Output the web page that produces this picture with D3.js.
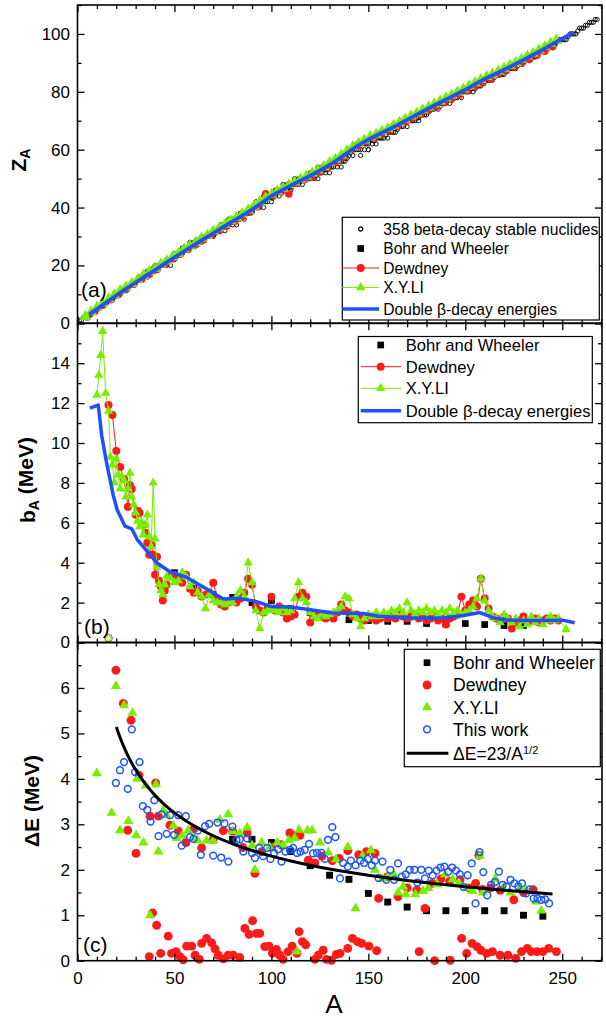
<!DOCTYPE html>
<html><head><meta charset="utf-8">
<script src="https://cdn.jsdelivr.net/npm/d3@7"></script>
<style>body{margin:0;background:#fff}svg{display:block}text{font-family:Arial,"Liberation Sans",sans-serif}</style>
</head><body><svg id="c" width="606" height="1019"></svg>
<script>
// ---------- Panel (a): Z_A versus A ----------
// most beta-stable charge for A = 1..268 (index + 1)
const stableZ = [1,1,2,2,2,3,3,4,4,5, 5,6,6,7,7,8,8,8,9,10, 10,10,11,12,12,12,13,14,14,14,
 15,16,16,16,17,18,17,18,19,20, 19,20,20,20,21,22,22,22,22,22, 23,24,24,26,25,26,26,28,27,28,
 28,28,29,30,29,30,30,30,31,32, 31,32,32,34,33,34,34,36,35,36, 35,36,36,38,37,38,38,38,39,40,
 40,42,41,42,42,44,42,44,44,44, 44,46,45,46,46,48,47,48,47,48, 48,50,49,50,50,50,50,50,50,52,
 51,52,52,54,52,54,53,54,54,56, 54,56,55,56,56,58,56,58,57,58, 59,60,60,62,60,60,62,62,62,62,
 63,64,63,64,64,66,64,66,65,66, 66,68,66,68,67,68,68,70,69,70, 70,70,70,72,71,72,72,72,72,74,
 73,74,74,76,75,76,76,76,76,78, 77,78,77,78,78,80,79,80,80,80, 80,80,81,82,81,82,82,82,83,84,
 84,84,84,84,85,86,86,86,86,86, 87,88,88,88,88,88,89,90,90,90, 91,92,92,92,92,92,93,94,94,94,
 95,96,95,96,96,96,97,98,98,98, 98,98,99,100,100,100,100,101,102,102, 102,103,103,104,104,104,105,105];
const stableExtraA = [36,40,46,48,50,54,58,64,70,74,76,78,80,82,84,86,92,94,96,96,98,100,102,104,106,108,110,112,113,114,115,116,120,122,123,124,124,126,128,130,130,132,134,136,136,138,142,144,148,150,152,154,156,158,160,162,164,168,170,174,176,180,184,186,190,192,196,198,204,187,176,180,115,113,50,138,128,146,142,150];
const stableExtraZ = [16,18,20,20,24,24,26,28,30,32,32,34,34,34,36,36,40,40,40,42,42,42,44,44,46,46,46,48,48,48,49,48,50,50,51,50,52,52,52,52,54,54,54,54,56,56,58,60,60,60,62,62,64,64,64,66,66,68,68,70,70,72,74,74,76,76,78,78,80,75,71,73,49,49,23,57,53,58,60,60];
const zaBetaA = [6,10,15,20,25,30,35,40,45,50,55,60,65,70,75,80,85,90,95,100,105,110,115,120,125,130,135,140,145,150,155,160,165,170,175,180,185,190,195,200,205,210,215,220,225,230,235,240,245,250,256];
const zaBetaZ = [3.0,4.9,7.3,9.6,11.9,14.1,16.3,18.4,20.6,22.8,24.9,27.0,29.1,31.1,33.2,35.2,37.2,39.3,41.6,44.0,45.8,47.6,49.3,51.0,52.8,54.7,56.9,59.3,61.6,63.5,65.2,66.8,68.5,70.3,72.1,73.9,75.6,77.3,79.0,80.7,82.6,84.4,86.0,87.6,89.3,91.0,92.8,94.6,96.5,98.4,100.5];
const zaXyliA = [4,7,10,13,16,19,22,25,28,31,34,37,40,43,46,49,52,55,58,61,64,67,70,73,76,79,82,85,88,91,94,97,100,103,106,109,112,115,118,121,124,127,130,133,136,139,142,145,148,151,154,157,160,163,166,169,172,175,178,181,184,187,190,193,196,199,202,205,208,211,214,217,220,223,226,229,232,235,238,241,244,247];
const zaXyliZ = [2.3,3.9,5.5,6.9,8.4,9.8,11.3,12.5,13.7,15.1,16.6,17.8,19.0,20.4,21.5,22.9,24.1,25.6,26.7,28.0,29.3,30.4,31.8,32.9,34.2,35.4,36.5,37.8,39.1,40.5,41.9,43.3,44.5,45.6,46.6,47.8,48.8,49.8,50.8,51.9,53.0,54.1,55.4,56.6,58.1,59.6,61.0,62.2,63.3,64.4,65.3,66.3,67.3,68.4,69.4,70.5,71.6,72.6,73.7,74.7,75.7,76.8,77.8,78.8,79.9,80.9,82.0,83.1,84.2,85.2,86.1,87.1,88.1,89.1,90.1,91.2,92.3,93.3,94.5,95.6,96.7,97.8];
const zaDewA = [5,9,13,17,21,25,29,33,37,41,45,49,53,57,61,65,69,73,77,81,85,89,93,97,101,105,109,113,117,121,125,129,133,137,141,145,149,153,157,161,165,169,173,177,181,185,189,193,197,201,205,209,213,217,221,225,229,233,237,241,245];
const zaDewZ = [2.2,4.2,6.2,8.1,9.9,11.7,13.5,15.1,16.9,18.6,20.4,22.3,23.9,25.5,27.2,28.8,30.4,32.0,33.6,35.2,36.8,38.4,40.3,44.8,44.0,45.4,44.7,48.5,49.6,50.6,52.3,53.8,55.6,57.4,59.9,61.4,62.8,64.0,65.6,66.7,68.0,69.5,70.9,72.2,73.5,74.8,76.2,77.6,78.9,80.4,81.8,83.1,84.6,86.0,87.3,88.6,89.9,91.2,92.6,94.0,95.6];
const zaBohrA = [50,60,70,80,90,100,110,120,130,140,150,160,170,180,190,200,210,220,230,240];
const zaBohrZ = [22.6,26.8,31.0,35.0,39.0,43.4,47.2,50.8,54.5,59.0,63.2,66.6,70.2,73.6,77.2,80.4,84.0,87.4,90.8,94.2];

// ---------- Panel (b): b_A versus A ----------
const bBohrA = [50,60,70,80,90,100,110,120,130,140,150,160,170,180,190,200,210,220,230];
const bBohr  = [3.5,2.8,2.4,2.26,2.0,2.1,1.7,1.5,1.3,1.14,1.1,1.06,1.06,0.95,0.95,0.95,0.9,0.85,0.85];
const bDewA = [16,18,20,22,24,26,27,28,30,31,32,34,35,36,37,38,39,40,41,42,43,44,45,46,48,50,52,54,56,58,60,62,64,66,68,70,72,74,76,78,80,82,84,86,88,90,92,94,96,98,100,102,104,106,108,110,112,114,116,118,120,122,124,126,128,130,132,134,136,138,140,142,144,146,148,150,152,154,156,158,160,162,164,166,168,170,172,174,176,178,180,182,184,186,188,190,192,194,196,198,200,202,204,206,208,210,212,214,216,218,220,222,224,226,228,230,232,234,236,238,240,242,244,246,248];
const bDew  = [11.9,11.4,9.6,8.8,8.2,6.8,7.9,7.7,6.4,6.6,6.5,5.9,5.5,5.0,4.4,4.9,4.4,3.4,4.3,3.1,2.8,2.1,2.6,2.9,3.3,3.4,3.2,3.0,3.4,2.7,2.5,2.6,2.3,2.4,2.5,3.0,2.2,1.9,1.8,2.0,2.1,2.0,2.2,2.5,3.2,2.9,1.8,1.6,1.5,1.7,2.3,1.6,1.8,1.5,1.2,1.3,1.4,2.3,2.5,2.3,1.0,1.3,1.4,1.3,1.2,1.4,1.2,1.5,1.9,1.6,1.5,1.3,1.4,1.2,1.1,1.2,1.3,1.1,1.2,1.3,1.2,1.3,1.2,1.4,1.3,1.2,1.3,1.4,1.2,1.3,1.1,1.2,1.3,1.1,1.2,0.9,1.2,1.3,1.4,2.3,1.6,1.9,2.1,1.8,3.2,2.2,1.7,1.3,1.2,1.1,1.3,1.2,0.7,1.0,1.1,1.3,1.0,1.1,1.2,1.0,1.1,1.2,1.1,1.2,1.1];
const bXyliA = [10,11,12,13,14.5,16,17,18,19,20,21,22,23,24,25,26,27,28,29,30,31,32,33,34,35,36,37,38,39,40,41,42,43,44,45,46,48,50,52,54,56,58,60,62,64,66,68,70,72,74,76,78,80,82,84,86,88,90,92,94,96,98,100,102,104,106,108,110,112,114,116,118,120,122,124,126,128,130,132,134,136,138,140,142,144,146,148,150,152,154,156,158,160,162,164,166,168,170,172,174,176,178,180,182,184,186,188,190,192,194,196,198,200,202,204,206,208,210,212,214,216,218,220,222,224,226,228,230,232,234,236,238,240,242,244,246,248,252];
const bXyli  = [12.4,13.4,14.4,15.6,12.5,11.6,9.3,8.9,8.0,9.2,8.4,7.7,8.3,8.1,7.3,7.7,8.5,7.3,6.9,6.5,6.1,5.8,6.0,5.4,5.9,6.4,5.3,4.8,8.0,5.2,3.8,2.9,2.6,2.4,2.9,3.3,3.2,3.0,3.1,3.5,3.3,2.8,3.0,2.5,2.3,1.7,2.4,2.1,2.0,2.0,1.9,2.0,2.0,2.3,2.6,2.3,4.0,3.0,1.6,0.7,1.5,1.6,1.7,1.6,1.5,1.7,1.5,1.6,2.2,3.0,2.2,2.0,1.5,1.3,1.2,1.4,1.3,1.4,1.5,1.6,1.8,2.3,2.2,1.4,1.2,0.8,1.2,1.4,1.3,1.5,1.3,1.5,1.4,1.6,1.5,1.7,1.5,2.0,1.6,1.4,1.6,1.5,1.7,1.5,1.6,1.4,1.6,1.5,1.7,1.5,1.6,1.4,1.5,1.6,1.8,2.2,3.2,2.1,1.6,1.3,1.2,1.0,1.4,1.2,1.0,1.2,0.8,1.1,0.9,1.3,1.0,1.2,0.9,1.1,1.3,1.1,1.2,0.65];
const bBetaA = [6.4,10.7,12.5,15,18.5,20.5,24.5,28,30.8,36.5,40.8,47.7,56.3,66.6,75.2,80,83.8,90,94,99.5,109.5,119.4,131.4,147.4,155,169.3,180,189,199,207.5,213,216,221,229,240,250,256.4];
const bBeta  = [11.75,11.9,10.36,9.0,7.35,6.64,5.83,5.7,5.16,4.5,4.0,3.55,3.26,2.68,2.18,2.2,2.2,2.1,2.0,1.81,1.78,1.65,1.48,1.45,1.32,1.24,1.22,1.24,1.35,1.5,1.3,1.2,1.13,1.1,1.1,1.12,0.99];
const bOddA = [16];
const bOddDew = [0.22];
const bOddXyli = [0.22];

// ---------- Panel (c): ΔE versus A ----------
const dBohrA = [80,90,100,110,120,130,140,150,160,170,180,190,200,210,220,230,240];
const dBohr  = [2.67,2.67,2.6,2.4,2.09,1.88,1.79,1.48,1.29,1.18,1.1,1.1,1.1,1.1,1.1,1.0,0.98];
const dDewA = [19.8,23.6,27.6,25.9,30.2,31.7,40.3,37.4,41.7,47.7,52,55.9,60,64,70,75.2,80,85.2,87.5,91.5,95,100,105,109.5,112,114.7,119,122.4,126,131.4,135,139.4,145,149,153.4,155.3,160,165.3,170,175,179.2,183,187.4,192,197.3,202,205.3,207,209,213,218,225,230,235,
 37,38.7,40.8,42.9,46.8,48.5,50.8,52.8,54.5,56.3,58.9,60.6,62.8,64,66.6,69.2,70.9,72.6,75.2,77.7,80.3,83.7,86.3,88.5,90.3,92.3,94,96.6,98.8,100.5,102.6,104.3,106,108.6,110.7,113.2,114.3,116,117.7,122.4,124.1,126.7,128.4,131,133.5,135.4,139.4,141.8,144.4,146.6,150.3,154.3,176.2,184.2,192.2,198.1,200.7,203.5,206,208,211,214,218,222,226,229,232,234,237,240,243,247];
const dDew  = [6.39,5.66,5.29,2.87,2.36,4.08,3.91,3.18,3.18,2.98,2.85,2.6,2.9,2.48,2.67,2.86,2.85,2.49,2.81,1.92,2.4,2.5,2.55,2.81,2.75,2.76,2.21,2.15,2.3,2.2,2.25,2.42,2.33,2.4,2.36,1.37,1.85,1.41,1.6,1.55,1.15,1.7,1.8,1.75,1.78,1.6,1.7,2.32,1.57,1.6,1.55,1.34,1.5,1.56,
 0.09,1.05,0.78,0.16,0.54,0.16,0.2,0.09,0.02,0.32,0.32,0.12,0.03,0.38,0.49,0.39,0.26,0.12,0.04,0.12,0.12,0.07,0.71,0.58,0.88,0.6,0.6,0.31,0.32,0.16,0.25,0.12,0.03,0.2,0.32,0.16,0.64,0.42,0.35,0.03,0.12,0.23,0.03,0.01,0.14,0.16,0.27,0.49,0.42,0.38,0.32,0.22,0.2,0.0,0.01,0.49,0.16,0.38,0.31,0.23,0.16,0.2,0.12,0.12,0.05,0.2,0.27,0.2,0.2,0.2,0.27,0.2];
const dXyliA = [9.9,19.8,17.6,21.9,24,26.2,28.3,30.2,30.8,34,35.2,37.4,40.5,41.7,44.2,46,49.4,51,54,57.1,60,62,66.6,70,73.5,77.7,80,83.7,87.5,90,91.5,95,99,103,106,109,112,114.3,118.6,113.2,121,125,129.3,133.3,139.4,143.4,147,151.3,153.4,157.3,160,163.2,165.3,168,169.3,174.3,178.2,181,185.5,189.6,193.5,196.6,200.6,203.7,207.4,209,215.4,219.4,223.3,228.2,231.3,236.3,239.2];
const dXyli  = [4.12,6.04,3.25,2.87,5.62,3.07,5.45,2.76,4.0,2.6,3.85,1.0,3.88,2.4,3.3,3.2,2.97,2.7,2.75,2.86,2.7,2.64,2.64,2.64,3.1,3.22,2.85,2.8,2.93,2.54,2.0,2.6,2.5,2.6,2.55,2.65,2.7,2.88,2.86,0.2,2.87,2.6,2.38,2.23,2.5,1.15,2.3,2.43,2.0,1.8,1.85,1.9,1.5,1.63,1.46,1.46,1.53,1.6,1.68,1.9,1.79,1.72,1.6,1.53,2.3,1.5,1.8,1.6,1.5,1.6,1.56,1.3,1.1];
const dWorkA = [19.8,21.9,24,25.9,28,29.7,32,33.7,36,37.7,39.6,41.8,43.4,46,47.7,49.8,52,53.7,55.9,58,59.8,62,63.6,65.8,67.9,70,72.2,74.1,75.8,77.8,79.9,82,83.7,85.5,87.5,90,91.5,93.7,95.7,97.8,99.5,101.4,103.4,105.2,107.2,109.5,111.2,113.2,115,117.2,119.4,121.5,123.5,125.8,127.5,129.2,131.4,133,135.4,137,139.4,141,143.4,145.8,147.8,149.7,151.7,153.4,155.3,157.3,159.3,161.3,163.3,165.3,167.3,169.3,171.3,173.7,175.3,177.3,179.2,181.2,183.2,185.2,187.2,189.2,191.2,193.2,195.2,197.2,199.2,201.2,203.3,205.3,207.3,209.3,211.3,213.3,215.3,217.3,219.3,221.3,223.3,225.3,227.3,229.2,231.3,233.3,235.3,237.2,239.2,241.2,243.2];
const dWork  = [3.91,4.19,4.37,3.78,5.09,4.15,4.37,3.4,3.32,3.06,3.53,2.74,3.22,2.79,3.2,2.77,3.2,2.53,3.18,2.72,2.68,2.86,2.33,2.96,3.01,2.31,3.04,2.27,3.02,2.18,2.95,2.66,2.67,2.4,2.69,2.37,2.26,2.48,2.3,2.48,2.24,2.37,2.45,2.18,2.4,2.44,2.48,2.37,2.4,2.44,2.57,2.36,2.37,2.37,2.24,2.66,2.94,2.72,1.81,2.15,2.07,2.2,2.1,2.2,2.15,2.24,2.1,2.2,1.82,2.18,1.78,2.0,1.78,2.14,1.85,1.9,2.0,2.0,1.72,2.0,1.81,1.98,1.88,1.98,2.05,2.07,1.96,2.05,1.98,1.9,1.62,1.88,2.14,1.26,2.39,1.95,1.44,1.67,1.73,1.96,1.67,1.63,1.78,1.7,1.64,1.7,1.48,1.57,1.37,1.37,1.34,1.35,1.26];
const dFitA = [20,22,25,27,30,35,40,45,50,60,70,80,90,100,110,120,130,140,150,160,170,180,190,200,210,220,230,245];
const dFit  = [5.143,4.904,4.6,4.426,4.199,3.888,3.637,3.429,3.253,2.969,2.749,2.571,2.424,2.3,2.193,2.1,2.017,1.944,1.878,1.818,1.764,1.714,1.669,1.626,1.587,1.551,1.517,1.469];

const xMajor = [0,50,100,150,200,250];
const xMinor = [10,20,30,40,60,70,80,90,110,120,130,140,160,170,180,190,210,220,230,240,260,270];

// ---------- drawing ----------
const RED = "#ff1a1a", GREEN = "#77ee00", BLUE = "#1f4fff", DBLUE = "#1a55ff";
const svg = d3.select("#c");
const L = 77.5, R = 602;
const x = d3.scaleLinear().domain([0, 270.5]).range([L, R]);
const ya = d3.scaleLinear().domain([0, 110]).range([323.3, 5]);
const yb = d3.scaleLinear().domain([0, 16]).range([642.5, 323.3]);
const yc = d3.scaleLinear().domain([0, 7]).range([960.7, 642.5]);
const zip = (a, b) => a.map((v, i) => [v, b[i]]);
const range = (s, e, st) => d3.range(s, e + 1e-9, st);

function frame(y, yMajor, yMinor, yLab, xLab) {
  const [b, t] = y.range();
  const g = svg.append("g").attr("class", "frame");
  const style = sel => { sel.select(".domain").remove(); sel.selectAll("line").attr("stroke", "#000").attr("stroke-width", 1.3); sel.selectAll("text").attr("font-size", 17).attr("fill", "#000").attr("font-family", "Arial, 'Liberation Sans', sans-serif"); };
  g.append("g").attr("transform", `translate(0,${b})`).call(d3.axisBottom(x).tickValues(xMajor).tickSize(-7).tickPadding(11).tickFormat(xLab ? d3.format("d") : "")).call(style);
  g.append("g").attr("transform", `translate(0,${b})`).call(d3.axisBottom(x).tickValues(xMinor).tickSize(-4).tickFormat("")).call(style);
  g.append("g").attr("transform", `translate(0,${t})`).call(d3.axisTop(x).tickValues(xMajor).tickSize(-7).tickFormat("")).call(style);
  g.append("g").attr("transform", `translate(0,${t})`).call(d3.axisTop(x).tickValues(xMinor).tickSize(-4).tickFormat("")).call(style);
  g.append("g").attr("transform", `translate(${L},0)`).call(d3.axisLeft(y).tickValues(yMajor).tickSize(-7).tickPadding(7.5).tickFormat(v => yLab.includes(v) ? d3.format("d")(v) : "")).call(style);
  g.append("g").attr("transform", `translate(${L},0)`).call(d3.axisLeft(y).tickValues(yMinor).tickSize(-4).tickFormat("")).call(style);
  g.append("g").attr("transform", `translate(${R},0)`).call(d3.axisRight(y).tickValues(yMajor).tickSize(-7).tickFormat("")).call(style);
  g.append("g").attr("transform", `translate(${R},0)`).call(d3.axisRight(y).tickValues(yMinor).tickSize(-4).tickFormat("")).call(style);
  g.append("rect").attr("x", L).attr("y", t).attr("width", R - L).attr("height", b - t).attr("fill", "none").attr("stroke", "#000").attr("stroke-width", 1.6);
}

function line(g, pts, y, color, w) {
  g.append("path").datum(pts).attr("fill", "none").attr("stroke", color).attr("stroke-width", w)
    .attr("stroke-linejoin", "round").attr("d", d3.line().x(d => x(d[0])).y(d => y(d[1])));
}
function marks(g, pts, y, type, size, fill, stroke, sw) {
  g.selectAll(null).data(pts).join("path")
    .attr("transform", d => `translate(${x(d[0])},${y(d[1])})`)
    .attr("d", d3.symbol(type, size)())
    .attr("fill", fill).attr("stroke", stroke).attr("stroke-width", sw || 0);
}
const TRI = d3.symbolTriangle, CIR = d3.symbolCircle, SQ = d3.symbolSquare;

// panel a data
const ga = svg.append("g");
const stablePts = stableZ.map((z, i) => [i + 1, z]).concat(zip(stableExtraA, stableExtraZ));
marks(ga, stablePts, ya, CIR, 14, "none", "#000", 0.9);
marks(ga, zip(zaBohrA, zaBohrZ), ya, SQ, 30, "#000", "none");
line(ga, zip(zaDewA, zaDewZ), ya, RED, 1.2);
marks(ga, zip(zaDewA, zaDewZ), ya, CIR, 44, RED, "none");
line(ga, zip(zaXyliA, zaXyliZ), ya, GREEN, 1.5);
marks(ga, zip(zaXyliA, zaXyliZ), ya, TRI, 58, GREEN, "none");
line(ga, zip(zaBetaA, zaBetaZ), ya, BLUE, 3.8);

// panel b data
const gb = svg.append("g");
marks(gb, zip(bBohrA, bBohr), yb, SQ, 45, "#000", "none");
line(gb, zip(bDewA, bDew), yb, RED, 1);
marks(gb, zip(bDewA, bDew), yb, CIR, 50, RED, "none");
line(gb, zip(bXyliA, bXyli), yb, GREEN, 1);
marks(gb, zip(bXyliA, bXyli), yb, TRI, 38, GREEN, "none");
line(gb, zip(bBetaA, bBeta), yb, BLUE, 3.5);
marks(gb, zip(bOddA, bOddDew), yb, CIR, 45, "none", RED, 1);
marks(gb, zip(bOddA, bOddXyli), yb, TRI, 22, "none", GREEN, 1);

// panel c data
const gc = svg.append("g");
marks(gc, zip(dBohrA, dBohr), yc, SQ, 48, "#000", "none");
marks(gc, zip(dDewA, dDew), yc, CIR, 62, RED, "none");
marks(gc, zip(dXyliA, dXyli), yc, TRI, 44, GREEN, "none");
marks(gc, zip(dWorkA, dWork), yc, CIR, 36, "none", DBLUE, 1.5);
gc.append("path").datum(zip(dFitA, dFit)).attr("fill", "none").attr("stroke", "#000").attr("stroke-width", 3)
  .attr("d", d3.line().x(d => x(d[0])).y(d => yc(d[1])).curve(d3.curveMonotoneX));

// frames
frame(ya, range(0, 100, 20), range(10, 110, 20), range(0, 100, 20), false);
frame(yb, range(0, 16, 2), range(1, 15, 2), range(0, 14, 2), false);
frame(yc, range(0, 7, 1), range(0.5, 6.5, 1), range(0, 6, 1), true);

// legends
function legend(box, rows, symX, lineX, textX, fs) {
  const g = svg.append("g");
  g.append("rect").attr("x", box[0]).attr("y", box[1]).attr("width", box[2] - box[0]).attr("height", box[3] - box[1])
    .attr("fill", "#fff").attr("stroke", "#000").attr("stroke-width", 1.2);
  rows.forEach(r => {
    if (r.line) g.append("line").attr("x1", lineX[0]).attr("x2", lineX[1]).attr("y1", r.y).attr("y2", r.y)
      .attr("stroke", r.line).attr("stroke-width", r.lw);
    if (r.sym) g.append("path").attr("transform", `translate(${symX},${r.y})`).attr("d", d3.symbol(r.sym, r.size)())
      .attr("fill", r.fill).attr("stroke", r.stroke || "none").attr("stroke-width", r.sw || 0);
    const t = g.append("text").attr("x", textX).attr("y", r.y).attr("dy", "0.36em").attr("font-size", fs).attr("fill", "#000");
    r.text.forEach(p => t.append("tspan").text(p.t).attr("font-size", p.fs || null).attr("dy", p.dy || null));
  });
}
legend([342.3, 217.3, 599.3, 320], [
  {y: 229, sym: CIR, size: 14, fill: "none", stroke: "#000", sw: 1.2, text: [{t: "358 beta-decay stable nuclides"}]},
  {y: 248.5, sym: SQ, size: 45, fill: "#000", text: [{t: "Bohr and Wheeler"}]},
  {y: 268, line: RED, lw: 1, sym: CIR, size: 50, fill: RED, text: [{t: "Dewdney"}]},
  {y: 287.5, line: GREEN, lw: 1, sym: TRI, size: 40, fill: GREEN, text: [{t: "X.Y.LI"}]},
  {y: 309, line: BLUE, lw: 3.5, text: [{t: "Double β-decay energies"}]}
], 360.7, [342.3, 379], 383.3, 15.6);
legend([358.3, 336.5, 592.3, 422.7], [
  {y: 345, sym: SQ, size: 45, fill: "#000", text: [{t: "Bohr and Wheeler"}]},
  {y: 366.7, line: RED, lw: 1, sym: CIR, size: 50, fill: RED, text: [{t: "Dewdney"}]},
  {y: 388.3, line: GREEN, lw: 1, sym: TRI, size: 40, fill: GREEN, text: [{t: "X.Y.LI"}]},
  {y: 410.7, line: BLUE, lw: 3.5, text: [{t: "Double β-decay energies"}]}
], 380.7, [360.7, 401], 405.7, 16.6);
legend([404.3, 649.3, 600.3, 766.7], [
  {y: 662.7, sym: SQ, size: 45, fill: "#000", text: [{t: "Bohr and Wheeler"}]},
  {y: 685, sym: CIR, size: 62, fill: RED, text: [{t: "Dewdney"}]},
  {y: 707.3, sym: TRI, size: 44, fill: GREEN, text: [{t: "X.Y.LI"}]},
  {y: 729.3, sym: CIR, size: 36, fill: "none", stroke: DBLUE, sw: 1.5, text: [{t: "This work"}]},
  {y: 753.3, line: "#000", lw: 3, text: [{t: "ΔE=23/A"}, {t: "1/2", fs: 11, dy: "-0.55em"}]}
], 427, [406.7, 448.4], 453, 17.6);

// panel labels and axis titles
const lab = (t, xx, yy) => svg.append("text").attr("x", xx).attr("y", yy).attr("font-size", 21).text(t);
lab("(a)", 81, 297.3); lab("(b)", 84, 634); lab("(c)", 83, 952.3);
function ytitle(xx, yy, parts) {
  const t = svg.append("text").attr("transform", `translate(${xx},${yy}) rotate(-90)`).attr("text-anchor", "middle")
    .attr("font-size", 21).attr("font-weight", "bold");
  parts.forEach(p => t.append("tspan").text(p.t).attr("font-size", p.fs || null).attr("dy", p.dy || null));
}
ytitle(26, 160, [{t: "Z"}, {t: "A", fs: 14, dy: "0.3em"}]);
ytitle(35, 480, [{t: "b"}, {t: "A", fs: 14, dy: "0.3em"}, {t: " (MeV)", dy: "-0.3em"}]);
ytitle(38.5, 801, [{t: "ΔE (MeV)"}]);
svg.append("text").attr("x", 334).attr("y", 1013).attr("text-anchor", "middle").attr("font-size", 26).text("A");
</script></body></html>
